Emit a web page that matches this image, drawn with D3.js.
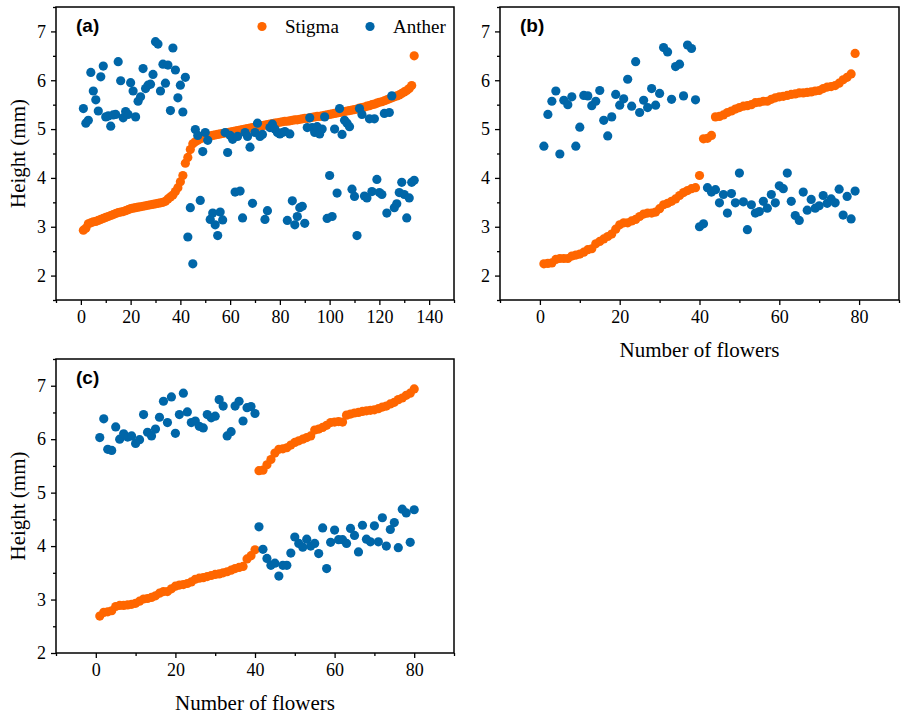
<!DOCTYPE html>
<html><head><meta charset="utf-8">
<script src="https://cdn.jsdelivr.net/npm/d3@7"></script>
<style>
body{margin:0;background:#fff;}
svg{display:block;}
</style>
</head><body>
<svg id="chart" width="903" height="719"></svg>
<script>
// ---------- DATA (flower number = index + 1) ----------
const seriesNames = ["Stigma", "Anther"];
const stigmaA = [2.93,2.97,3.06,3.08,3.10,3.11,3.13,3.15,3.17,3.19,
3.21,3.23,3.25,3.27,3.29,3.30,3.31,3.33,3.35,3.37,
3.38,3.39,3.40,3.41,3.42,3.43,3.44,3.45,3.46,3.47,
3.48,3.49,3.50,3.52,3.57,3.61,3.65,3.72,3.80,3.92,
4.05,4.30,4.42,4.58,4.70,4.74,4.77,4.80,4.82,4.84,
4.85,4.86,4.87,4.88,4.89,4.90,4.91,4.92,4.93,4.94,
4.95,4.96,4.97,4.98,4.99,5.00,5.01,5.02,5.03,5.04,
5.05,5.06,5.07,5.08,5.09,5.10,5.11,5.12,5.13,5.14,
5.15,5.16,5.16,5.17,5.18,5.19,5.19,5.20,5.21,5.22,
5.22,5.23,5.24,5.25,5.26,5.26,5.27,5.28,5.29,5.30,
5.31,5.32,5.33,5.34,5.35,5.36,5.37,5.38,5.39,5.40,
5.41,5.43,5.44,5.45,5.47,5.48,5.50,5.51,5.53,5.55,
5.56,5.58,5.60,5.62,5.64,5.66,5.68,5.70,5.73,5.76,
5.79,5.83,5.89,6.50];
const antherA = [5.42,5.12,5.18,6.16,5.78,5.60,5.37,6.07,6.29,5.25,
5.27,5.06,5.29,5.30,6.38,5.99,5.23,5.36,5.30,5.95,
5.78,5.25,5.57,5.66,6.24,5.83,5.90,5.92,6.12,6.79,
6.74,5.78,6.33,5.94,6.31,5.38,6.66,6.21,5.64,5.90,
5.35,6.06,2.79,3.39,2.24,4.99,4.87,3.54,4.54,4.93,
4.77,3.15,3.28,3.04,2.82,3.30,3.14,4.93,4.52,4.87,
4.79,3.71,4.85,3.73,3.18,4.93,4.85,4.63,3.48,4.93,
5.12,4.85,4.89,3.15,3.33,5.03,5.10,5.00,4.93,4.90,
4.93,4.95,3.13,4.90,3.53,3.04,3.21,3.39,3.42,3.07,
5.03,5.23,5.03,4.93,5.05,4.90,5.00,5.25,3.17,4.05,
3.21,5.00,3.69,5.42,4.89,5.18,5.12,5.05,3.77,3.62,
2.82,5.42,5.30,3.63,3.59,5.21,3.72,5.21,3.97,3.70,
3.66,5.32,3.28,5.34,5.68,3.39,3.47,3.70,3.91,3.66,
3.18,3.59,3.91,3.95];

const stigmaB = [2.24,2.25,2.26,2.33,2.35,2.35,2.35,2.40,2.42,2.44,
2.48,2.53,2.55,2.65,2.70,2.75,2.80,2.85,2.95,3.04,
3.08,3.08,3.12,3.15,3.21,3.26,3.28,3.28,3.30,3.37,
3.45,3.48,3.52,3.57,3.64,3.70,3.74,3.78,3.80,4.05,
4.80,4.81,4.87,5.25,5.26,5.29,5.34,5.37,5.41,5.44,
5.47,5.48,5.50,5.54,5.55,5.57,5.57,5.61,5.64,5.66,
5.67,5.69,5.71,5.72,5.74,5.74,5.75,5.76,5.78,5.79,
5.83,5.86,5.87,5.89,5.94,6.01,6.06,6.13,6.55];
const antherB = [4.65,5.30,5.57,5.78,4.49,5.59,5.50,5.66,4.65,5.04,
5.69,5.68,5.48,5.57,5.79,5.18,4.86,5.25,5.71,5.49,
5.62,6.02,5.47,6.38,5.34,5.59,5.44,5.83,5.49,5.73,
6.67,6.58,5.61,6.28,6.33,5.68,6.72,6.65,5.60,3.00,
3.06,3.80,3.71,3.76,3.49,3.66,3.28,3.68,3.49,4.10,
3.51,2.94,3.45,3.28,3.31,3.52,3.38,3.66,3.49,3.84,
3.78,4.10,3.52,3.23,3.13,3.71,3.34,3.56,3.38,3.43,
3.64,3.48,3.57,3.49,3.77,3.24,3.62,3.16,3.73];

const stigmaC = [2.69,2.76,2.77,2.79,2.87,2.89,2.89,2.90,2.91,2.93,
2.97,3.01,3.02,3.04,3.07,3.12,3.15,3.15,3.20,3.25,
3.27,3.28,3.30,3.33,3.38,3.40,3.41,3.43,3.45,3.47,
3.48,3.50,3.52,3.55,3.58,3.60,3.62,3.76,3.82,3.93,
5.41,5.42,5.52,5.62,5.74,5.81,5.82,5.84,5.89,5.94,
5.97,6.00,6.03,6.06,6.17,6.19,6.22,6.26,6.31,6.32,
6.33,6.32,6.45,6.47,6.49,6.50,6.52,6.53,6.54,6.55,
6.57,6.60,6.62,6.66,6.69,6.74,6.77,6.82,6.86,6.94];
const antherC = [6.03,6.38,5.81,5.79,6.23,6.00,6.10,6.04,6.06,5.92,
5.99,6.46,6.13,6.06,6.19,6.41,6.71,6.31,6.79,6.11,
6.46,6.86,6.51,6.31,6.34,6.24,6.21,6.46,6.40,6.43,
6.74,6.62,6.06,6.14,6.62,6.71,6.34,6.59,6.61,6.48,
4.36,3.94,3.77,3.64,3.68,3.44,3.64,3.64,3.87,4.17,
4.05,3.98,4.13,4.00,4.05,3.86,4.34,3.58,4.07,4.30,
4.12,4.12,4.05,4.33,4.20,3.89,4.39,4.13,4.08,4.38,
4.08,4.53,4.00,4.31,4.44,3.97,4.69,4.62,4.07,4.68];

const xTicksA = [0,20,40,60,80,100,120,140];
const xTicksBC = [0,20,40,60,80];
const yTicks = [2,3,4,5,6,7];

// ---------- STYLE ----------
const ORANGE = "#ff6600";
const BLUE = "#0066a8";
const R = 4.6;
const SERIF = "Liberation Serif";
const SANS = "Liberation Sans";

const svg = d3.select("#chart");

function panel(cfg){
  const x = d3.scaleLinear().domain(cfg.xDomain).range(cfg.xRange);
  const y = d3.scaleLinear().domain(cfg.yDomain).range(cfg.yRange);
  const g = svg.append("g");
  const y0 = cfg.yRange[0], y1 = cfg.yRange[1];
  const x0 = cfg.xRange[0], x1 = cfg.xRange[1];

  // minor ticks
  const xMinor = d3.range(cfg.xDomain[0], cfg.xDomain[1] + 0.001, 10).filter(v => !cfg.xTicks.includes(v));
  const yMinor = d3.range(Math.ceil(cfg.yDomain[0]*2)/2, cfg.yDomain[1] + 0.001, 0.5).filter(v => !yTicks.includes(v));
  g.append("g").attr("transform", `translate(0,${y0})`)
    .call(d3.axisBottom(x).tickValues(xMinor).tickSize(3).tickFormat(""))
    .call(s => s.select(".domain").remove());
  g.append("g").attr("transform", `translate(${x0},0)`)
    .call(d3.axisLeft(y).tickValues(yMinor).tickSize(3).tickFormat(""))
    .call(s => s.select(".domain").remove());

  // major ticks
  const xa = g.append("g").attr("transform", `translate(0,${y0})`)
    .call(d3.axisBottom(x).tickValues(cfg.xTicks).tickSize(5).tickPadding(5).tickFormat(d3.format("d")));
  xa.select(".domain").remove();
  const ya = g.append("g").attr("transform", `translate(${x0},0)`)
    .call(d3.axisLeft(y).tickValues(yTicks.filter(v => v >= cfg.yDomain[0])).tickSize(5).tickPadding(5).tickFormat(d3.format("d")));
  ya.select(".domain").remove();
  g.selectAll("g").attr("font-family", SERIF).attr("font-size", 18);
  g.selectAll(".tick line").attr("stroke", "#000").attr("stroke-width", 1.3);
  g.selectAll(".tick text").style("font-family", SERIF).style("font-size", "18px").attr("fill", "#000");

  // points
  const clipId = "clip" + cfg.name;
  svg.append("clipPath").attr("id", clipId).append("rect")
    .attr("x", x0).attr("y", y1).attr("width", x1 - x0).attr("height", y0 - y1);
  const pts = g.append("g").attr("clip-path", `url(#${clipId})`);
  pts.selectAll("circle.s").data(cfg.stigma).enter().append("circle")
    .attr("class", "s").attr("cx", (d, i) => x(i + 1)).attr("cy", d => y(d)).attr("r", R).attr("fill", ORANGE);
  pts.selectAll("circle.a").data(cfg.anther).enter().append("circle")
    .attr("class", "a").attr("cx", (d, i) => x(i + 1)).attr("cy", d => y(d)).attr("r", R).attr("fill", BLUE);

  // frame
  g.append("rect").attr("x", x0).attr("y", y1).attr("width", x1 - x0).attr("height", y0 - y1)
    .attr("fill", "none").attr("stroke", "#000").attr("stroke-width", 1.5);

  // panel label
  g.append("text").attr("x", x0 + 20).attr("y", y1 + 25).text(cfg.label)
    .style("font-family", SANS).style("font-weight", "bold").style("font-size", "19px").attr("fill", "#000");

  if (cfg.yTitle) {
    g.append("text").attr("transform", `translate(${x0 - 31},${(y0 + y1) / 2}) rotate(-90)`)
      .attr("text-anchor", "middle").text("Height (mm)")
      .style("font-family", SERIF).style("font-size", "21px").attr("fill", "#000");
  }
  if (cfg.xTitle) {
    g.append("text").attr("x", (x0 + x1) / 2).attr("y", y0 + 57).attr("text-anchor", "middle")
      .text("Number of flowers").style("font-family", SERIF).style("font-size", "21px").attr("fill", "#000");
  }
  return {x, y, g};
}

panel({name:"a", label:"(a)", xDomain:[-10,150], xRange:[56,454], yDomain:[1.5,7.5], yRange:[300,7],
  xTicks:xTicksA, stigma:stigmaA, anther:antherA, yTitle:true, xTitle:false});
panel({name:"b", label:"(b)", xDomain:[-10,90], xRange:[500,899], yDomain:[1.5,7.5], yRange:[300,7],
  xTicks:xTicksBC, stigma:stigmaB, anther:antherB, yTitle:false, xTitle:true});
panel({name:"c", label:"(c)", xDomain:[-10,90], xRange:[56,454], yDomain:[2,7.5], yRange:[653,359],
  xTicks:xTicksBC, stigma:stigmaC, anther:antherC, yTitle:true, xTitle:true});

// legend in panel (a)
const leg = svg.append("g");
const legItems = [{name:seriesNames[0], color:ORANGE, cx:262, tx:285},
                  {name:seriesNames[1], color:BLUE, cx:370, tx:393}];
legItems.forEach(it => {
  leg.append("circle").attr("cx", it.cx).attr("cy", 26.5).attr("r", R).attr("fill", it.color);
  leg.append("text").attr("x", it.tx).attr("y", 33).text(it.name)
    .style("font-family", SERIF).style("font-size", "19px").attr("fill", "#000");
});
</script>
</body></html>
